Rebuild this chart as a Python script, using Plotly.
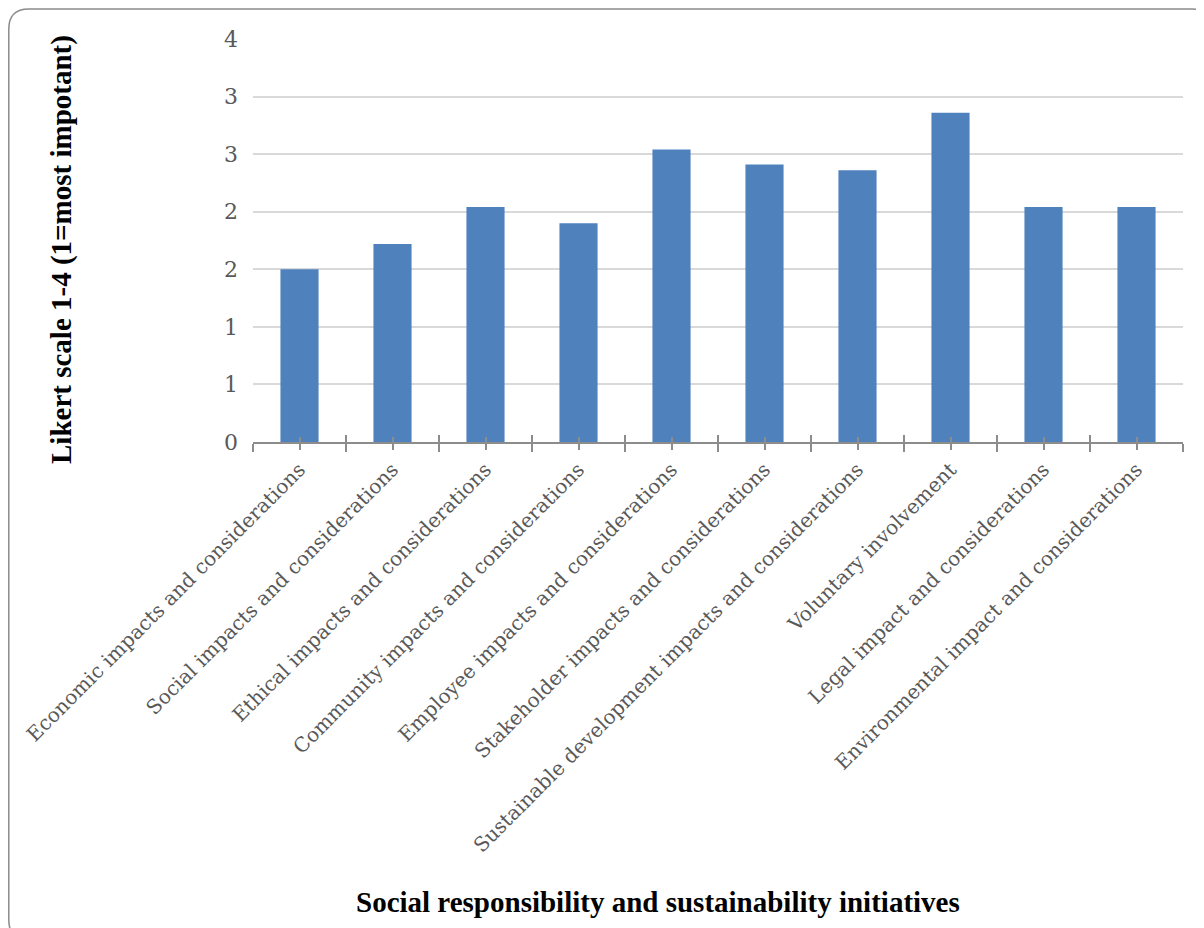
import plotly.graph_objects as go

categories = [
    "Economic impacts and considerations",
    "Social impacts and considerations",
    "Ethical impacts and considerations",
    "Community impacts and considerations",
    "Employee impacts and considerations",
    "Stakeholder impacts and considerations",
    "Sustainable development impacts and considerations",
    "Voluntary involvement",
    "Legal impact and considerations",
    "Environmental impact and considerations",
]
values = [1.50, 1.72, 2.04, 1.90, 2.54, 2.41, 2.36, 2.86, 2.04, 2.04]
y_tickvals = [0, 0.5, 1, 1.5, 2, 2.5, 3, 3.5]
y_ticktext = ["0", "1", "1", "2", "2", "3", "3", "4"]
y_title = "Likert scale 1-4 (1=most impotant)"
x_title = "Social responsibility and sustainability initiatives"

# page body has an 8px margin; figure coordinates = page coordinates - 8
OFF = 8
W, H = 1204 - OFF, 928 - OFF
L, R, T, B = 253 - OFF, 1183 - OFF, 39 - OFF, 442 - OFF

xs = list(range(len(categories)))
bounds = [i - 0.5 for i in range(len(categories) + 1)]

fig = go.Figure()
fig.add_trace(go.Bar(x=xs, y=values, marker=dict(color="#4f81bd", line=dict(width=0)),
                     width=0.41, hoverinfo="skip"))

tick_font = dict(family="DejaVu Serif", size=20, color="#595959")

fig.update_layout(
    width=W, height=H,
    margin=dict(l=L, r=W - R, t=T, b=H - B),
    paper_bgcolor="white", plot_bgcolor="white",
    showlegend=False,
    xaxis=dict(
        range=[-0.5, len(categories) - 0.5],
        tickmode="array", tickvals=xs, ticktext=categories,
        tickangle=-45, tickfont=tick_font,
        ticks="outside", ticklen=6, tickwidth=2, tickcolor="#8c8c8c",
        minor=dict(tickmode="array", tickvals=bounds, ticks="outside", ticklen=8,
                   tickwidth=2, tickcolor="#8c8c8c", showgrid=False),
        showline=True, linecolor="#8c8c8c", linewidth=2,
        showgrid=False, zeroline=False,
    ),
    xaxis2=dict(
        overlaying="x", matches="x", side="bottom",
        range=[-0.5, len(categories) - 0.5],
        tickmode="array", tickvals=xs, ticktext=[""] * len(xs),
        ticks="inside", ticklen=5, tickwidth=2, tickcolor="#8c8c8c",
        minor=dict(tickmode="array", tickvals=bounds, ticks="inside", ticklen=7,
                   tickwidth=2, tickcolor="#8c8c8c", showgrid=False),
        showline=False, showgrid=False, zeroline=False, showticklabels=False,
    ),
    yaxis=dict(
        range=[0, 3.5],
        tickmode="array", tickvals=y_tickvals, ticktext=y_ticktext,
        tickfont=dict(family="DejaVu Serif", size=22, color="#595959"),
        showgrid=True, gridcolor="#d9d9d9", gridwidth=1.5,
        zeroline=False, showline=False, ticks="",
        ticklabelstandoff=14,
    ),
)

# dummy trace to activate xaxis2
fig.add_trace(go.Scatter(x=[xs[0]], y=[0], xaxis="x2", mode="markers",
                         marker=dict(opacity=0), hoverinfo="skip"))

def X(px):
    return (px - OFF - L) / (R - L)

def Y(py):
    return (B - (py - OFF)) / (B - T)

fig.add_annotation(
    text="<b>" + y_title + "</b>", textangle=-90,
    x=X(62), y=Y(250), xref="paper", yref="paper",
    showarrow=False, font=dict(family="Liberation Serif", size=29, color="black"),
    xanchor="center", yanchor="middle",
)
fig.add_annotation(
    text="<b>" + x_title + "</b>",
    x=X(658), y=Y(902), xref="paper", yref="paper",
    showarrow=False, font=dict(family="Liberation Serif", size=29, color="black"),
    xanchor="center", yanchor="middle",
)

# rounded outer border (page coordinates)
x0, y0, x1, y1, r = 8.8, 9, 1212, 940, 20
path = (f"M {X(x0 + r)},{Y(y0)} L {X(x1 - r)},{Y(y0)} "
        f"Q {X(x1)},{Y(y0)} {X(x1)},{Y(y0 + r)} L {X(x1)},{Y(y1 - r)} "
        f"Q {X(x1)},{Y(y1)} {X(x1 - r)},{Y(y1)} L {X(x0 + r)},{Y(y1)} "
        f"Q {X(x0)},{Y(y1)} {X(x0)},{Y(y1 - r)} L {X(x0)},{Y(y0 + r)} "
        f"Q {X(x0)},{Y(y0)} {X(x0 + r)},{Y(y0)} Z")
fig.add_shape(type="path", path=path, xref="paper", yref="paper",
              line=dict(color="#8c8c8c", width=1.5), layer="above")

fig.write_html("out.html")
